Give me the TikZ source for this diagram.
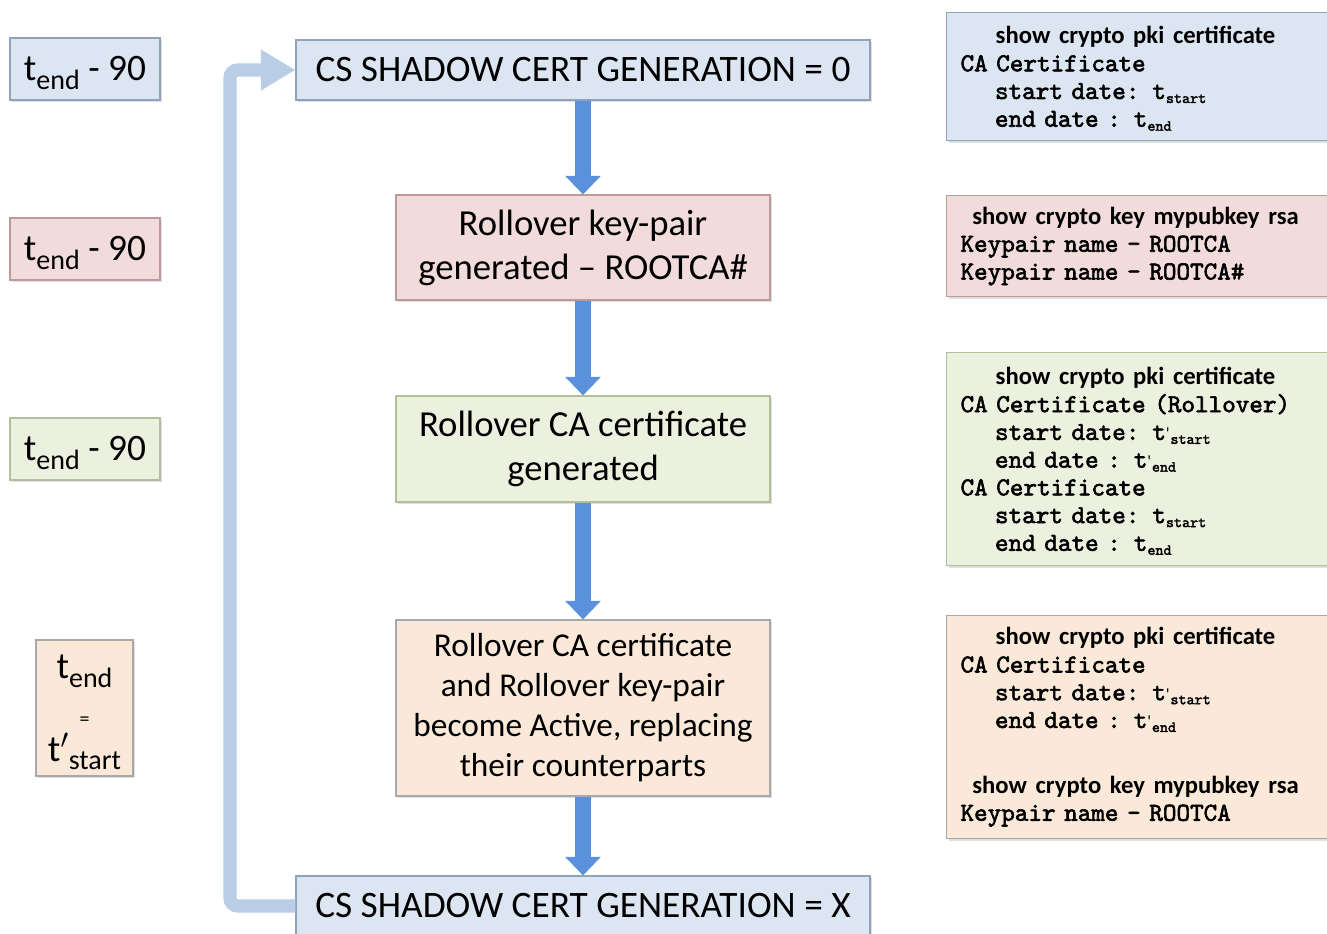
\documentclass[tikz,border=0pt]{standalone}
\usepackage{fontspec}
\setmainfont{Carlito}
\newfontfamily\cmdfont{lmmono10-regular}[Extension=.otf,FakeBold=2.2]
\usetikzlibrary{arrows.meta,shadows}

\definecolor{bluefill}{HTML}{DCE6F2}
\definecolor{blueline}{HTML}{8EA2BC}
\definecolor{redfill}{HTML}{F2DCDB}
\definecolor{redline}{HTML}{BC9A9A}
\definecolor{greenfill}{HTML}{EBF1DE}
\definecolor{greenline}{HTML}{B3BF9A}
\definecolor{tanfill}{HTML}{FAE9D8}
\definecolor{tanline}{HTML}{A8A8A8}
\definecolor{flowblue}{HTML}{5B90DC}
\definecolor{loopblue}{HTML}{B9CDE5}

% subscripts for the dates
\newcommand{\tsub}[1]{t\raisebox{-6.5pt}[0pt][0pt]{\fontsize{21}{21}\selectfont #1}}
\newcommand{\tpsub}[1]{t$^{\prime}$\raisebox{-6.5pt}[0pt][0pt]{\fontsize{21}{21}\selectfont #1}}
\newcommand{\msub}[1]{t\raisebox{-3pt}[0pt][0pt]{\fontsize{11.5}{11.5}\selectfont #1}}
\newcommand{\mpsub}[1]{t{\normalfont\fontsize{13}{13}\selectfont\textquotesingle}\kern0.5pt\raisebox{-3pt}[0pt][0pt]{\fontsize{11.5}{11.5}\selectfont #1}}
\newcommand{\cmdline}[1]{\makebox[262.5pt]{\normalfont\bfseries\fontsize{18.5}{20.8}\selectfont #1}}

\tikzset{
  box/.style={draw, line width=0.8pt, drop shadow={opacity=0.25, shadow xshift=1.5pt, shadow yshift=-1.5pt}},
  bluebox/.style={box, fill=bluefill, draw=blueline},
  redbox/.style={box, fill=redfill, draw=redline},
  greenbox/.style={box, fill=greenfill, draw=greenline},
  tanbox/.style={box, fill=tanfill, draw=tanline},
  timebox/.style={minimum width=112.5pt, minimum height=46.5pt, inner sep=0pt, font=\fontsize{28}{33}\selectfont},
  stepbox/.style={minimum width=280.5pt, align=center, inner sep=0pt, font=\fontsize{27.5}{33}\selectfont},
  genbox/.style={minimum width=430.5pt, minimum height=45pt, inner sep=0pt, font=\fontsize{28}{33}\selectfont},
  showbox/.style={anchor=north west, text width=290pt, inner xsep=10.5pt, inner ysep=4pt, align=left,
    font=\cmdfont\fontsize{19.4}{20.8}\selectfont},
  flow/.style={-{Triangle[width=26pt,length=14pt]}, line width=12.5pt, flowblue},
  loop/.style={-{Triangle[width=29pt,length=26pt]}, line width=10pt, loopblue, rounded corners=6pt},
}

\begin{document}
\begin{tikzpicture}[x=0.75pt,y=-0.75pt]
\clip (0,0) rectangle (1327,934);

% times on the left
\node[bluebox,timebox] (time1) at (85,69) {\tsub{end} - 90};
\node[redbox,timebox] (time2) at (85,249) {\tsub{end} - 90};
\node[greenbox,timebox] (time3) at (85,449) {\tsub{end} - 90};
\node[tanbox,timebox,minimum width=72.75pt,minimum height=102pt,align=center] (time4) at (84.5,708)
  {\tsub{end}\\[2.5pt] {\fontsize{15}{15}\selectfont =}\\[-6.5pt] \tpsub{start}};

% flow in the middle
\node[bluebox,genbox] (gen0) at (583,70) {CS SHADOW CERT GENERATION = 0};
\node[redbox,stepbox,minimum height=78.75pt] (keypair) at (583,247.5) {Rollover key-pair\\generated -- ROOTCA\#};
\node[greenbox,stepbox,minimum height=79.5pt] (cacert) at (583,449) {Rollover CA certificate\\generated};
\node[tanbox,stepbox,minimum height=132pt,font=\fontsize{25}{30}\selectfont] (active) at (583,708)
  {Rollover CA certificate\\and Rollover key-pair\\become Active, replacing\\their counterparts};
\node[bluebox,genbox] (genx) at (583,906) {CS SHADOW CERT GENERATION = X};

\draw[flow] (gen0.south) -- (keypair.north);
\draw[flow] (keypair.south) -- (cacert.north);
\draw[flow] (cacert.south) -- (active.north);
\draw[flow] (active.south) -- (genx.north);
\draw[loop] (genx.west) -| (230,70) -- (gen0.west);

% show commands on the right
\node[bluebox,showbox,minimum height=96pt] (show1) at (946,12)
  {\cmdline{show crypto pki certificate}\\
   CA Certificate\\
   \ \ \ \ start date: \msub{start}\\
   \ \ \ \ end date : \msub{end}};
\node[redbox,showbox,minimum height=75.75pt] (show2) at (946,195)
  {\cmdline{show crypto key mypubkey rsa}\\
   Keypair name - ROOTCA\\
   Keypair name - ROOTCA\#};
\node[greenbox,showbox,minimum height=159.75pt] (show3) at (946,352)
  {\cmdline{show crypto pki certificate}\\
   CA Certificate (Rollover)\\
   \ \ \ \ start date: \mpsub{start}\\
   \ \ \ \ end date : \mpsub{end}\\
   CA Certificate\\
   \ \ \ \ start date: \msub{start}\\
   \ \ \ \ end date : \msub{end}};
\node[tanbox,showbox,minimum height=167.25pt] (show4) at (946,615)
  {\cmdline{show crypto pki certificate}\\
   CA Certificate\\
   \ \ \ \ start date: \mpsub{start}\\
   \ \ \ \ end date : \mpsub{end}\\[28pt]
   \cmdline{show crypto key mypubkey rsa}\\
   Keypair name - ROOTCA};
\end{tikzpicture}
\end{document}
